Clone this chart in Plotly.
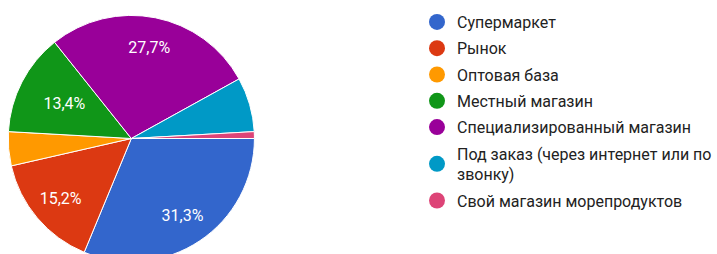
import plotly.graph_objects as go

categories = [
    "Супермаркет",
    "Рынок",
    "Оптовая база",
    "Местный магазин",
    "Специализированный магазин",
    "Под заказ (через интернет или по<br>звонку)",
    "Свой магазин морепродуктов",
]
counts = [35, 17, 5, 15, 31, 8, 1]
colors = ["#3366cc", "#dc3912", "#ff9900", "#109618", "#990099", "#0099c6", "#dd4477"]

W, H = 717, 266
CX, CY, R = 132.8, 138.5, 124.5   # pie centre / radius in pixels (layout)


def dom(scale):
    r = R * scale
    return dict(x=[(CX - r) / W, (CX + r) / W], y=[(H - CY - r) / H, (H - CY + r) / H])


total = sum(counts)
shares = [c / total for c in counts]
label_fmt = "%{percent:.1%}"
# big slices labelled in an outer ring, the narrow one on an inner pie
ring_tpl = [label_fmt if s >= 0.15 else "" for s in shares]
inner_tpl = [label_fmt if 0.1 <= s < 0.15 else "" for s in shares]

common = dict(labels=categories, values=counts, sort=False,
              direction="clockwise", rotation=90, showlegend=False)
clear = dict(colors=["rgba(0,0,0,0)"] * len(counts), line=dict(width=0))
tfont = dict(color="white", size=16, family="Roboto, Arial, sans-serif")

fig = go.Figure()
fig.add_trace(go.Pie(
    **common,
    marker=dict(colors=colors, line=dict(color="white", width=1)),
    textinfo="none", hoverinfo="label+percent", domain=dom(1.0),
))
fig.add_trace(go.Pie(
    **common, hole=0.5, marker=clear,
    texttemplate=ring_tpl, textposition="inside", insidetextorientation="horizontal",
    textfont=tfont, hoverinfo="skip", domain=dom(1.0),
))
fig.add_trace(go.Pie(
    **common, marker=clear,
    texttemplate=inner_tpl, textposition="inside", insidetextorientation="horizontal",
    textfont=tfont, hoverinfo="skip", domain=dom(0.86),
))

# legend entries with circular symbols
for i, (name, col) in enumerate(zip(categories, colors)):
    fig.add_trace(go.Scatter(
        x=[None], y=[None], mode="markers", name=name,
        legendgroup=f"g{i}",
        marker=dict(symbol="circle", size=16, color=col),
        showlegend=True, hoverinfo="skip",
    ))

fig.update_layout(
    width=W, height=H,
    margin=dict(l=0, r=0, t=0, b=0),
    paper_bgcolor="white", plot_bgcolor="white",
    separators=", ",
    xaxis=dict(visible=False), yaxis=dict(visible=False),
    legend=dict(
        x=422 / W, xanchor="left", y=1 - 5 / H, yanchor="top",
        font=dict(size=16, color="#222222", family="Roboto, Arial, sans-serif"),
        bgcolor="rgba(0,0,0,0)", itemclick=False, tracegroupgap=2.5,
    ),
)

fig.write_html(
    "out.html",
    config={"displayModeBar": False},
    post_script="document.body.style.margin='0';document.body.style.overflow='hidden';",
)
